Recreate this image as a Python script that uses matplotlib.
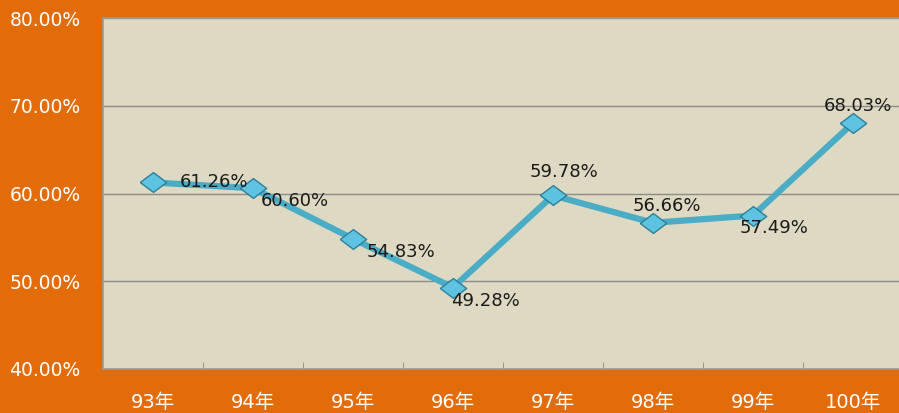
import matplotlib.pyplot as plt
from matplotlib.ticker import FixedLocator

# Data
years = ["93年", "94年", "95年", "96年", "97年", "98年", "99年", "100年"]
rates = [61.26, 60.60, 54.83, 49.28, 59.78, 56.66, 57.49, 68.03]
# label offsets (pixels) relative to each point
label_dx = [61, 42, 48, 32, 11, 14, 21, 5]
label_dy = [0, -13, -13, -13, 23, 17, -12, 17]

fams = ['DejaVu Sans', 'Noto Sans CJK TC']
plt.rcParams['font.family'] = fams

orange = "#E36C0A"
panel = "#DDD9C3"
blue = "#4BACC6"

fig = plt.figure(figsize=(8.99, 4.13), dpi=100, facecolor=orange)
ax = fig.add_axes([103 / 899, 1 - 369 / 413, 800 / 899, 351 / 413])
ax.set_facecolor(panel)

# flattened diamond marker
diamond = [(-1, 0), (0, 0.75), (1, 0), (0, -0.75), (-1, 0)]

x = list(range(len(years)))
ax.plot(x, rates, color=blue, lw=4.5, zorder=3, solid_capstyle="round")
ax.plot(x, rates, ls="none", marker=diamond, ms=19, mfc="#5EC3E0",
        mec="#2E7F99", mew=1.0, zorder=4)

for i, v in enumerate(rates):
    ax.annotate(f"{v:.2f}%", (i, v), xytext=(label_dx[i], label_dy[i]),
                textcoords="offset pixels", ha="center", va="center",
                fontsize=13, color="#1a1a1a", zorder=5)

ax.set_xlim(-0.5, len(years) - 0.5)
ax.set_ylim(40, 80)
ax.set_yticks([40, 50, 60, 70, 80])
ax.set_yticklabels([f"{t:.2f}%" for t in [40, 50, 60, 70, 80]])
ax.set_xticks(x)
ax.set_xticklabels(years)
ax.xaxis.set_minor_locator(FixedLocator([i + 0.5 for i in x[:-1]]))
ax.tick_params(axis="x", which="major", length=0, pad=17, colors="white",
               labelsize=14)
ax.tick_params(axis="x", which="minor", length=5, direction="in",
               color="#8a8a8a")
ax.tick_params(axis="y", length=0, pad=16, colors="white", labelsize=13.5)

ax.grid(axis="y", color="#8c8c8c", lw=1)
ax.set_axisbelow(True)
for s in ["left", "bottom", "top"]:
    ax.spines[s].set_color("#9a9a9a")
    ax.spines[s].set_linewidth(1.2)
ax.spines["right"].set_visible(False)

fig.savefig("out.png", dpi=100, facecolor=orange)
